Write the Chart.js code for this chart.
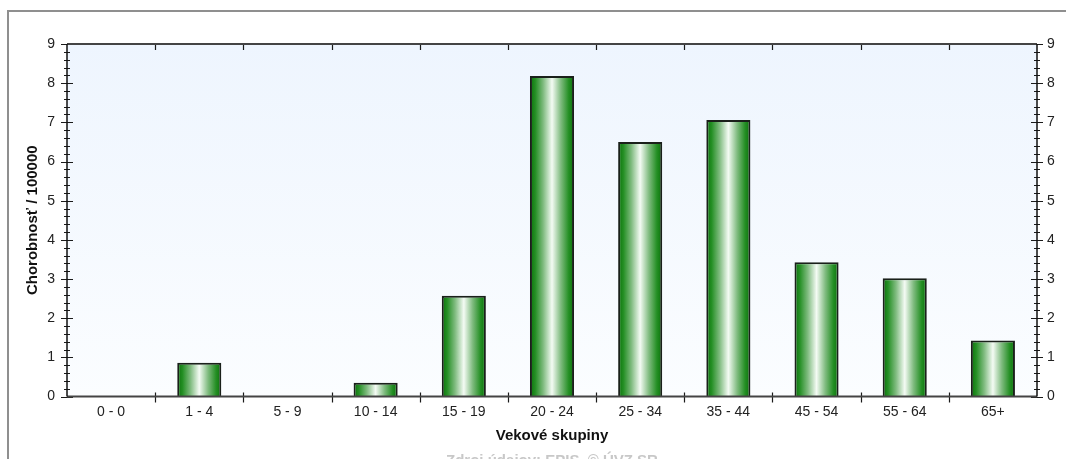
<!DOCTYPE html>
<html lang="sk">
<head>
<meta charset="utf-8">
<title>Chorobnosť podľa vekových skupín</title>
<script src="https://cdn.jsdelivr.net/npm/chart.js@4.4.1/dist/chart.umd.min.js"></script>
<style>
  html, body { margin: 0; padding: 0; background: #ffffff; }
  #wrap { position: relative; width: 1066px; height: 459px; }
</style>
</head>
<body>
<div id="wrap"><canvas id="chart" width="1066" height="459"></canvas></div>
<script>
// Age groups and morbidity per 100 000 inhabitants
const ageGroups = ['0 - 0', '1 - 4', '5 - 9', '10 - 14', '15 - 19', '20 - 24', '25 - 34', '35 - 44', '45 - 54', '55 - 64', '65+'];
const morbidity = [0, 0.86, 0, 0.35, 2.57, 8.18, 6.50, 7.06, 3.43, 3.02, 1.43];
const yTicks = [0, 1, 2, 3, 4, 5, 6, 7, 8, 9];

const yAxisTitle = 'Chorobnosť / 100000';
const xAxisTitle = 'Vekové skupiny';
const sourceNote = 'Zdroj údajov: EPIS, © ÚVZ SR';

const FONT = '"Liberation Sans", Arial, sans-serif';
const yMin = yTicks[0];
const yMax = yTicks[yTicks.length - 1];

// Cylinder-like horizontal shading for each bar
function barGradient(ctx) {
  const chart = ctx.chart;
  const xs = chart.scales.x;
  if (!xs || !chart.chartArea) return '#1a8a1a';
  const cx = xs.getPixelForValue(ctx.dataIndex);
  const half = (xs.width / ageGroups.length) * 0.25;
  const g = chart.ctx.createLinearGradient(cx - half, 0, cx + half, 0);
  g.addColorStop(0.00, '#0a700a');
  g.addColorStop(0.12, '#248f24');
  g.addColorStop(0.30, '#7fbb7f');
  g.addColorStop(0.50, '#f4fbf4');
  g.addColorStop(0.70, '#7fbb7f');
  g.addColorStop(0.88, '#248f24');
  g.addColorStop(1.00, '#0a700a');
  return g;
}

// Page frame and plot background
const framePlugin = {
  id: 'frame',
  beforeDraw(chart) {
    const c = chart.ctx;
    const a = chart.chartArea;
    c.save();
    c.fillStyle = '#ffffff';
    c.fillRect(0, 0, chart.width, chart.height);
    c.strokeStyle = '#8f8f8f';
    c.lineWidth = 2;
    c.beginPath();
    c.moveTo(8, chart.height);
    c.lineTo(8, 11);
    c.lineTo(chart.width, 11);
    c.stroke();
    const bg = c.createLinearGradient(0, a.top, 0, a.bottom);
    bg.addColorStop(0, '#eef5fe');
    bg.addColorStop(1, '#fbfdff');
    c.fillStyle = bg;
    c.fillRect(a.left, a.top, a.right - a.left, a.bottom - a.top);
    c.restore();
  },
  afterDraw(chart) {
    const c = chart.ctx;
    c.save();
    c.font = 'bold 15px ' + FONT;
    c.fillStyle = '#c8c8c8';
    c.textAlign = 'center';
    c.textBaseline = 'middle';
    c.fillText(sourceNote, (chart.chartArea.left + chart.chartArea.right) / 2, 461);
    c.restore();
  }
};

// Axis lines with major and minor tick marks
const axisPlugin = {
  id: 'axisFrame',
  afterDatasetsDraw(chart) {
    const c = chart.ctx;
    const a = chart.chartArea;
    const xs = chart.scales.x;
    const ys = chart.scales.y;
    c.save();
    c.strokeStyle = '#1a1a1a';
    c.lineWidth = 1.2;
    // minor and major ticks on both vertical axes
    for (let i = 0; i <= (yMax - yMin) * 5; i++) {
      const v = yMin + i / 5;
      const py = Math.round(ys.getPixelForValue(v)) + 0.5;
      const major = i % 5 === 0;
      const h = major ? 6 : 3;
      c.beginPath();
      c.moveTo(a.left - h, py); c.lineTo(a.left + h, py);
      c.moveTo(a.right - h, py); c.lineTo(a.right + h, py);
      c.stroke();
    }
    // category boundary ticks on top and bottom
    for (let i = 1; i < ageGroups.length; i++) {
      const px = Math.round((xs.getPixelForValue(i - 1) + xs.getPixelForValue(i)) / 2) + 0.5;
      c.beginPath();
      c.moveTo(px, a.top); c.lineTo(px, a.top + 6);
      c.moveTo(px, a.bottom - 4); c.lineTo(px, a.bottom + 6);
      c.stroke();
    }
    // axis lines
    c.strokeStyle = '#444444';
    c.lineWidth = 2;
    c.beginPath();
    c.moveTo(a.left, a.top); c.lineTo(a.right, a.top);
    c.moveTo(a.left, a.bottom); c.lineTo(a.right, a.bottom);
    c.stroke();
    c.strokeStyle = '#111111';
    c.lineWidth = 1.5;
    c.beginPath();
    c.moveTo(a.left, a.top); c.lineTo(a.left, a.bottom);
    c.moveTo(a.right, a.top); c.lineTo(a.right, a.bottom);
    c.stroke();
    c.restore();
  }
};

new Chart(document.getElementById('chart'), {
  type: 'bar',
  data: {
    labels: ageGroups,
    datasets: [{
      data: morbidity,
      backgroundColor: barGradient,
      borderColor: '#1a201a',
      borderWidth: 2,
      borderSkipped: 'bottom',
      barPercentage: 0.5,
      categoryPercentage: 1.0
    }]
  },
  options: {
    responsive: false,
    animation: false,
    devicePixelRatio: 1,
    layout: { padding: { left: 0, right: 0, top: 44, bottom: 12.5 } },
    plugins: {
      legend: { display: false },
      tooltip: { enabled: false }
    },
    scales: {
      x: {
        offset: true,
        grid: { display: false, drawTicks: false },
        border: { display: false },
        ticks: { color: '#222222', font: { family: FONT, size: 14 }, padding: 7, maxRotation: 0, autoSkip: false },
        title: { display: true, text: xAxisTitle, color: '#111111', font: { family: FONT, size: 15, weight: 'bold' }, padding: { top: 0, bottom: 1.5 } },
        afterFit(scale) { scale.height = 50; }
      },
      y: {
        position: 'left',
        min: yMin, max: yMax,
        grid: { display: false, drawTicks: false },
        border: { display: false },
        afterBuildTicks(scale) { scale.ticks = yTicks.map(v => ({ value: v })); },
        ticks: { color: '#222222', font: { family: FONT, size: 14 }, padding: 12 },
        title: { display: true, text: yAxisTitle, color: '#111111', font: { family: FONT, size: 15, weight: 'bold' }, padding: { top: 24, bottom: 0 } },
        afterFit(scale) { scale.width = 67; }
      },
      y2: {
        position: 'right',
        min: yMin, max: yMax,
        grid: { display: false, drawTicks: false },
        border: { display: false },
        afterBuildTicks(scale) { scale.ticks = yTicks.map(v => ({ value: v })); },
        ticks: { color: '#222222', font: { family: FONT, size: 14 }, padding: 10 },
        afterFit(scale) { scale.width = 29; }
      }
    }
  },
  plugins: [framePlugin, axisPlugin]
});
</script>
</body>
</html>
